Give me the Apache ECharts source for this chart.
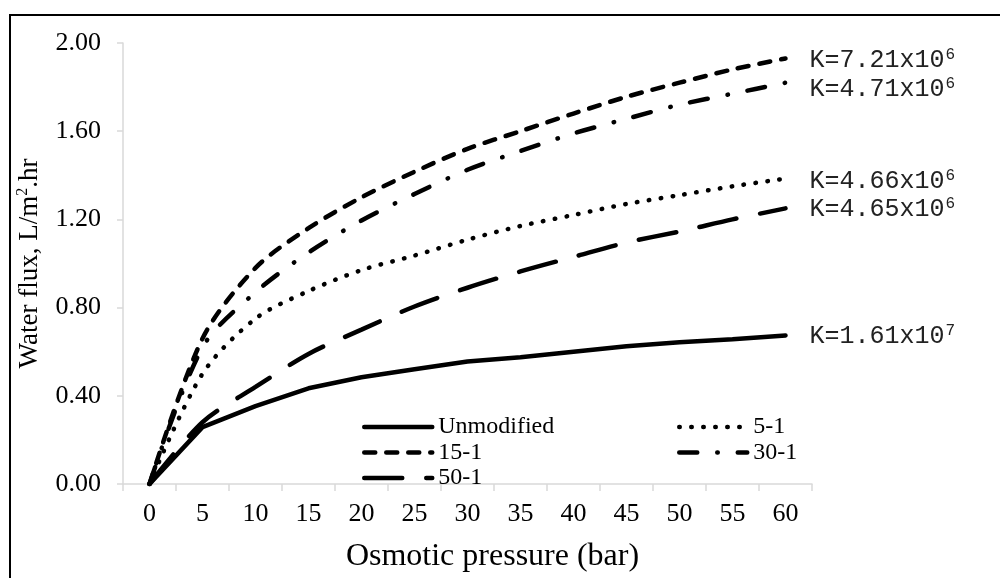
<!DOCTYPE html>
<html>
<head>
<meta charset="utf-8">
<script src="https://cdn.jsdelivr.net/npm/echarts@6/dist/echarts.min.js"></script>
<style>
  html, body { margin: 0; padding: 0; background: #fff; }
  #fluxChart { width: 1000px; height: 578px; }
</style>
</head>
<body>
<div id="fluxChart"></div>
<script>
// osmotic pressure categories (bar)
const pressure = ["0", "5", "10", "15", "20", "25", "30", "35", "40", "45", "50", "55", "60"];

// water flux, L/m2.hr
const unmodified = [0, 0.258, 0.353, 0.434, 0.484, 0.52, 0.556, 0.575, 0.6, 0.625, 0.643, 0.656, 0.674];
const flux5_1 = [0, 0.5, 0.75, 0.875, 0.97, 1.036, 1.108, 1.17, 1.22, 1.27, 1.31, 1.35, 1.385];
const flux15_1 = [0, 0.66, 0.98, 1.16, 1.3, 1.416, 1.52, 1.6, 1.68, 1.756, 1.82, 1.88, 1.93];
const flux30_1 = [0, 0.62, 0.87, 1.05, 1.195, 1.315, 1.425, 1.51, 1.59, 1.656, 1.72, 1.77, 1.82];
const flux50_1 = [0, 0.28, 0.44, 0.59, 0.7, 0.805, 0.89, 0.964, 1.03, 1.095, 1.145, 1.2, 1.25];

const yTicks = [0, 0.4, 0.8, 1.2, 1.6, 2.0];

// K values shown at the end of each curve: [mantissa, exponent]
const kUnmodified = ["1.61", "7"];
const k5_1 = ["4.66", "6"];
const k15_1 = ["7.21", "6"];
const k30_1 = ["4.71", "6"];
const k50_1 = ["4.65", "6"];

const serif = "Liberation Serif";
const mono = "Liberation Mono";

// dash patterns per series
const dashes = {
  "Unmodified": "solid",
  "5-1": [0.5, 11.5],
  "15-1": [11, 11],
  "30-1": [18, 20, 0.5, 20],
  "50-1": [38, 24]
};

let fluxChart = echarts.init(document.getElementById("fluxChart"));

function kLabel(k, offsetY) {
  return {
    show: true,
    distance: 24,
    offset: [0, offsetY],
    formatter: "{a|K=" + k[0] + "x10}{b|" + k[1] + "}",
    rich: {
      a: { fontFamily: mono, fontSize: 25, color: "#222", lineHeight: 28 },
      b: { fontFamily: mono, fontSize: 16, color: "#222", verticalAlign: "top", lineHeight: 16, padding: [0, 0, 0, 1] }
    }
  };
}

function curve(name, data, smooth, k, offsetY) {
  return {
    name: name,
    type: "line",
    data: data,
    smooth: smooth,
    symbol: "none",
    lineStyle: { color: "#000", width: 4.5, type: dashes[name], cap: "round" },
    itemStyle: { color: "#000" },
    endLabel: kLabel(k, offsetY),
    z: 3
  };
}

function legendItem(name) {
  return {
    name: name,
    lineStyle: { color: "#000", width: 4.5, type: dashes[name], cap: "round" },
    itemStyle: { opacity: 0 }
  };
}

function legendBlock(names, left) {
  return {
    data: names.map(legendItem),
    orient: "vertical",
    left: left,
    top: 415,
    padding: 0,
    itemWidth: 68,
    itemHeight: 14,
    itemGap: 1.5,
    textStyle: { fontFamily: serif, fontSize: 24, color: "#000", padding: [0, 0, 0, 1] }
  };
}

fluxChart.setOption({
  backgroundColor: "#fff",
  animation: false,
  textStyle: { fontFamily: serif },
  graphic: [
    {
      type: "rect",
      shape: { x: 10, y: 15, width: 1000, height: 600 },
      style: { fill: "none", stroke: "#000", lineWidth: 2 },
      silent: true
    }
  ],
  grid: { left: 123, right: 188, top: 43, bottom: 93 },
  legend: [
    legendBlock(["Unmodified", "15-1", "50-1"], 362),
    legendBlock(["5-1", "30-1"], 677)
  ],
  xAxis: {
    type: "category",
    data: pressure,
    boundaryGap: true,
    name: "Osmotic pressure (bar)",
    nameLocation: "middle",
    nameGap: 57,
    nameTextStyle: { fontFamily: serif, fontSize: 32, color: "#000", padding: [0, 0, 0, 50] },
    axisLine: { lineStyle: { color: "#d9d9d9", width: 1.5 } },
    axisTick: { show: true, interval: 0, length: 7, lineStyle: { color: "#d9d9d9", width: 1.5 } },
    axisLabel: { fontFamily: serif, fontSize: 26, color: "#000", margin: 17, interval: 0 },
    splitLine: { show: false }
  },
  yAxis: {
    type: "value",
    min: yTicks[0],
    max: yTicks[yTicks.length - 1],
    interval: 0.4,
    name: "{t|Water flux, L/m}{s|2}{t|.hr}",
    nameLocation: "middle",
    nameRotate: 90,
    nameGap: 78,
    nameTextStyle: {
      rich: {
        t: { fontFamily: serif, fontSize: 27, color: "#000", lineHeight: 30 },
        s: { fontFamily: serif, fontSize: 16, color: "#000", verticalAlign: "top", lineHeight: 16 }
      }
    },
    axisLine: { show: true, lineStyle: { color: "#d9d9d9", width: 1.5 } },
    axisTick: { show: true, length: 6, lineStyle: { color: "#d9d9d9", width: 1.5 } },
    axisLabel: {
      fontFamily: serif,
      fontSize: 26,
      color: "#000",
      margin: 22,
      formatter: function (v) { return v.toFixed(2); }
    },
    splitLine: { show: false }
  },
  series: [
    curve("Unmodified", unmodified, false, kUnmodified, 1),
    curve("5-1", flux5_1, 0.3, k5_1, 3),
    curve("15-1", flux15_1, 0.3, k15_1, 2),
    curve("30-1", flux30_1, 0.3, k30_1, 7),
    curve("50-1", flux50_1, 0.3, k50_1, 1)
  ]
});

window.addEventListener("resize", () => {
  fluxChart.resize();
});
</script>
</body>
</html>
